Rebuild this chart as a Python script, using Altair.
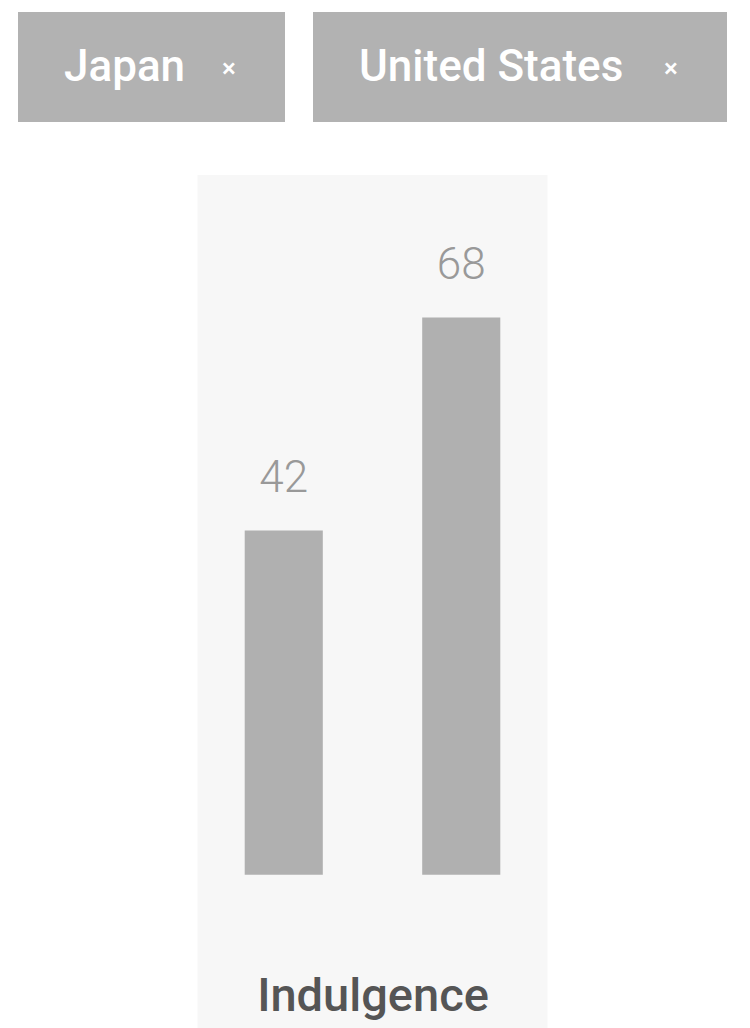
import altair as alt
import pandas as pd

countries = ["Japan", "United States"]
indulgence = [42, 68]
dimension = "Indulgence"

chip_widths = [267, 414]

def chip(name, w):
    base = alt.Chart(pd.DataFrame({"name": [name], "x": ["×"]}))
    t = base.mark_text(align="left", baseline="middle", font="Roboto", fontSize=44,
                       fontWeight=500, color="#ffffff").encode(
        x=alt.value(46), y=alt.value(56), text="name:N")
    c = base.mark_text(align="center", baseline="middle", font="Roboto", fontSize=26,
                       fontWeight=500, color="#ffffff").encode(
        x=alt.value(w - 56), y=alt.value(57), text="x:N")
    return alt.layer(t, c).properties(
        width=w, height=110,
        view=alt.ViewBackground(fill="#b2b2b2", stroke=None))

chips = alt.hconcat(*[chip(n, w) for n, w in zip(countries, chip_widths)], spacing=28)

df = pd.DataFrame({"country": countries, "value": indulgence, "dim": [dimension] * 2})

xscale = alt.Scale(domain=countries, paddingInner=0.56, paddingOuter=0.266)
xs = alt.X("country:N", scale=xscale,
           axis=alt.Axis(title=dimension, labels=False, ticks=False, domain=False,
                         offset=-55, titlePadding=0, titleFont="Roboto", titleFontSize=47,
                         titleFontWeight=500, titleColor="#555555", titleBaseline="top"))
ys = alt.Y("value:Q", scale=alt.Scale(domain=[-18.7, 85.4], nice=False, zero=False), axis=None)

bars = alt.Chart(df).mark_bar(color="#b0b0b0").encode(x=xs, y=ys, y2=alt.datum(0))
labels = alt.Chart(df).mark_text(baseline="bottom", dy=-30, font="Roboto", fontSize=44,
                                 fontWeight=300, color="#999999").encode(
    x=alt.X("country:N", scale=xscale), y="value:Q", text="value:Q")

panel = alt.layer(bars, labels).properties(
    width=350, height=853,
    view=alt.ViewBackground(fill="#f7f7f7", stroke=None))

chart = alt.vconcat(chips, panel, spacing=53, center=True).properties(
    padding={"left": 10, "top": 4, "right": 0, "bottom": 0}
).configure_view(stroke=None)

chart.save("out.html", embed_options={"renderer": "svg", "actions": False})
